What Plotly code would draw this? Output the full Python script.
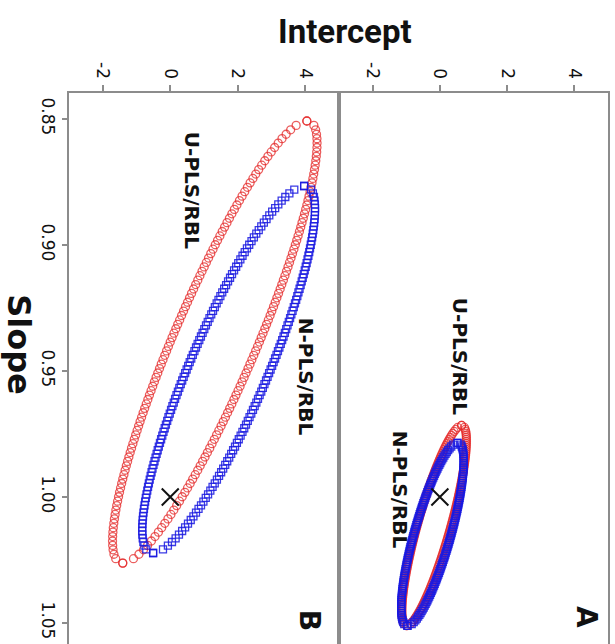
import numpy as np
import plotly.graph_objects as go

# ---- data ----
# joint confidence ellipses (intercept, slope): centre, half-extents, correlation
methods = ["U-PLS/RBL", "N-PLS/RBL"]
panel_B_centre_int = [1.32, 1.73]
panel_B_centre_slope = [0.9385, 0.9494]
panel_B_half_int = [3.03, 2.56]
panel_B_half_slope = [0.0877, 0.0728]
panel_B_rho = [-0.90, -0.874]

panel_A_centre_int = [-0.17, -0.22]
panel_A_centre_slope = [1.0113, 1.0148]
panel_A_half_int = [0.96, 0.93]
panel_A_half_slope = [0.0397, 0.0363]
panel_A_rho = [-0.85, -0.80]

ideal_int = [0.0]
ideal_slope = [1.0]

intercept_ticks = [-2, 0, 2, 4]
intercept_ticktext = ["-2", "0", "2", "4"]
slope_ticks = [0.85, 0.90, 0.95, 1.00, 1.05]
slope_ticktext = ["0.85", "0.90", "0.95", "1.00", "1.05"]

n_grid = 101  # points per half-ellipse (uniform slope grid)


def ellipse(ci, cs, hx, hy, rho):
    u = np.linspace(-1, 1, n_grid)
    s = np.sqrt(np.clip(1 - u ** 2, 0, None)) * np.sqrt(1 - rho ** 2)
    x1 = ci + hx * (rho * u + s)
    x2 = ci + hx * (rho * u - s)
    y = cs + hy * u
    return np.concatenate([x1, x2[::-1]]), np.concatenate([y, y[::-1]])


colors = ["rgba(228,40,40,0.75)", "rgba(25,25,225,0.85)"]
symbols = ["circle-open", "square-open"]
sizes = [8, 7]

fig = go.Figure()
panels = [
    ("x", "y", panel_B_centre_int, panel_B_centre_slope, panel_B_half_int, panel_B_half_slope, panel_B_rho),
    ("x2", "y2", panel_A_centre_int, panel_A_centre_slope, panel_A_half_int, panel_A_half_slope, panel_A_rho),
]
for xa, ya, ci, cs, hx, hy, rho in panels:
    for k in range(2):
        ex, ey = ellipse(ci[k], cs[k], hx[k], hy[k], rho[k])
        fig.add_trace(go.Scatter(
            x=ex, y=ey, xaxis=xa, yaxis=ya, mode="markers", name=methods[k],
            marker=dict(symbol=symbols[k], size=sizes[k], color=colors[k],
                        line=dict(width=1.3, color=colors[k])),
            showlegend=False, hoverinfo="skip"))
    fig.add_trace(go.Scatter(
        x=ideal_int, y=ideal_slope, xaxis=xa, yaxis=ya, mode="markers",
        marker=dict(symbol="x-thin-open", size=17, color="#111",
                    line=dict(width=2, color="#111")),
        showlegend=False, hoverinfo="skip"))

axis_col = "#8c8c8c"
tickfont = dict(family="DejaVu Sans", size=17, color="#111")
xcommon = dict(range=[-3, 5], side="top", tickvals=intercept_ticks, ticktext=intercept_ticktext,
               tickangle=90, ticks="outside", ticklen=6, tickcolor=axis_col, tickwidth=1.5,
               showline=True, linecolor=axis_col, linewidth=2, mirror=False,
               showgrid=False, zeroline=False, tickfont=tickfont)
split = 270 / 539
ycommon = dict(range=[1.0583, 0.8397], tickvals=slope_ticks, ticktext=slope_ticktext,
               showline=True, linecolor=axis_col, linewidth=2, mirror=True,
               showgrid=False, zeroline=False, tickfont=tickfont, tickangle=90)

fig.update_layout(
    width=615, height=644,
    margin=dict(l=69, r=7, t=93, b=0),
    paper_bgcolor="white", plot_bgcolor="white",
    xaxis=dict(domain=[0, split], anchor="y", **xcommon),
    xaxis2=dict(domain=[split, 1], anchor="y2", **xcommon),
    yaxis=dict(anchor="x", ticks="outside", ticklen=5, tickcolor=axis_col, tickwidth=1.5, **ycommon),
    yaxis2=dict(anchor="x2", matches="y", ticks="", showticklabels=False,
                **{k: v for k, v in ycommon.items() if k not in ("tickvals", "ticktext")}),
)

bold = dict(family="DejaVu Sans", size=20, color="#111", weight="bold")
ann = [
    dict(text="Intercept", xref="paper", yref="paper", x=0.512, y=1.112,
         font=dict(family="Roboto, Liberation Sans, sans-serif", size=33, color="#111", weight="bold")),
    dict(text="Slope", xref="paper", yref="paper", x=-0.093, y=0.5426, textangle=90,
         font=dict(family="DejaVu Sans", size=32, color="#111", weight="bold")),
    dict(text="U-PLS/RBL", xref="x", yref="y", x=0.65, y=0.8782, textangle=90, font=bold),
    dict(text="N-PLS/RBL", xref="x", yref="y", x=4.03, y=0.9524, textangle=90, font=bold),
    dict(text="U-PLS/RBL", xref="x2", yref="y2", x=0.6, y=0.944, textangle=90, font=bold),
    dict(text="N-PLS/RBL", xref="x2", yref="y2", x=-1.18, y=0.9972, textangle=90, font=bold),
    dict(text="A", xref="x2", yref="y2", x=4.38, y=1.0476, textangle=90,
         font=dict(family="DejaVu Sans", size=28, color="#111", weight="bold")),
    dict(text="B", xref="x", yref="y", x=4.15, y=1.0488, textangle=90,
         font=dict(family="DejaVu Sans", size=28, color="#111", weight="bold")),
]
for a in ann:
    a.update(showarrow=False, xanchor="center", yanchor="middle")
fig.update_layout(annotations=ann)

fig.write_html("out.html")
